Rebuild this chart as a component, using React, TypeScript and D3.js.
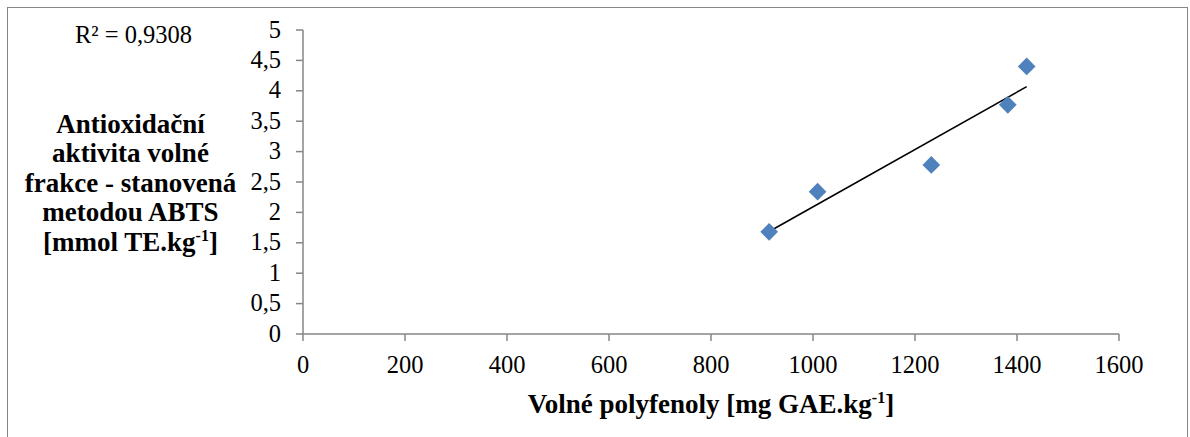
import React from "react";
import * as d3 from "d3";

const xValues = [914, 1009, 1232, 1382, 1419];
const yValues = [1.68, 2.34, 2.78, 3.77, 4.4];
const xTicks = [0, 200, 400, 600, 800, 1000, 1200, 1400, 1600];
const yTicks = [0, 0.5, 1, 1.5, 2, 2.5, 3, 3.5, 4, 4.5, 5];
const yTitleLines = ["Antioxidační", "aktivita volné", "frakce - stanovená", "metodou ABTS"];
const r2Label = "R² = 0,9308";

const W = 1190;
const H = 437;

export default function App() {
  const x = d3.scaleLinear().domain([0, 1600]).range([303, 1119]);
  const y = d3.scaleLinear().domain([0, 5]).range([334, 30]);

  const mx = d3.mean(xValues) as number;
  const my = d3.mean(yValues) as number;
  let sxy = 0, sxx = 0;
  xValues.forEach((v, i) => {
    sxy += (v - mx) * (yValues[i] - my);
    sxx += (v - mx) * (v - mx);
  });
  const slope = sxy / sxx;
  const intercept = my - slope * mx;
  const xMin = d3.min(xValues) as number;
  const xMax = d3.max(xValues) as number;
  const trend = d3.line<number>().x((v) => x(v)).y((v) => y(intercept + slope * v));

  const fmt = (v: number) => String(v).replace(".", ",");
  const axisColor = "#868686";
  const font = "'Liberation Serif', 'Times New Roman', serif";
  const diamond = d3.symbol().type(d3.symbolDiamond2).size(200)();
  const fs = 24.5;
  const tfs = 27;

  return (
    <svg width={W} height={H} style={{ position: "absolute", left: 0, top: 0 }} fontFamily={font}>
      <rect x={0} y={0} width={W} height={H} fill="#fff" />
      <rect x={7.5} y={7.5} width={1180} height={440} fill="none" stroke={axisColor} strokeWidth={1} />
      {/* y axis */}
      <line x1={303} x2={303} y1={y(5)} y2={y(0)} stroke={axisColor} strokeWidth={1.5} />
      {yTicks.map((t) => (
        <g key={"y" + t}>
          <line x1={296} x2={303} y1={y(t)} y2={y(t)} stroke={axisColor} strokeWidth={1.5} />
          <text x={281} y={y(t) + 7.5} textAnchor="end" fontSize={fs} fill="#000">
            {fmt(t)}
          </text>
        </g>
      ))}
      {/* x axis */}
      <line x1={x(0)} x2={x(1600)} y1={334} y2={334} stroke={axisColor} strokeWidth={1.5} />
      {xTicks.map((t) => (
        <g key={"x" + t}>
          <line x1={x(t)} x2={x(t)} y1={334} y2={341} stroke={axisColor} strokeWidth={1.5} />
          <text x={x(t)} y={373} textAnchor="middle" fontSize={fs} fill="#000">
            {t}
          </text>
        </g>
      ))}
      {/* trend line */}
      <path d={trend([xMin, xMax]) || ""} fill="none" stroke="#000" strokeWidth={1.6} />
      {/* points */}
      {xValues.map((v, i) => (
        <path key={"p" + i} d={diamond || ""} transform={`translate(${x(v)},${y(yValues[i])})`} fill="#4F81BD" />
      ))}
      {/* R² */}
      <text x={133.5} y={43} textAnchor="middle" fontSize={fs} fill="#000">
        {r2Label}
      </text>
      {/* y title */}
      <g fontWeight="bold" fontSize={tfs} fill="#000" textAnchor="middle">
        {yTitleLines.map((l, i) => (
          <text key={l} x={130.5} y={133 + i * 29.4}>
            {l}
          </text>
        ))}
        <text x={130.5} y={133 + 4 * 29.4}>
          [mmol TE.kg<tspan dy={-10} fontSize={16}>-1</tspan>
          <tspan dy={10}>]</tspan>
        </text>
      </g>
      {/* x title */}
      <text x={711} y={413} textAnchor="middle" fontWeight="bold" fontSize={tfs} fill="#000">
        Volné polyfenoly [mg GAE.kg<tspan dy={-10} fontSize={16}>-1</tspan>
        <tspan dy={10}>]</tspan>
      </text>
    </svg>
  );
}
